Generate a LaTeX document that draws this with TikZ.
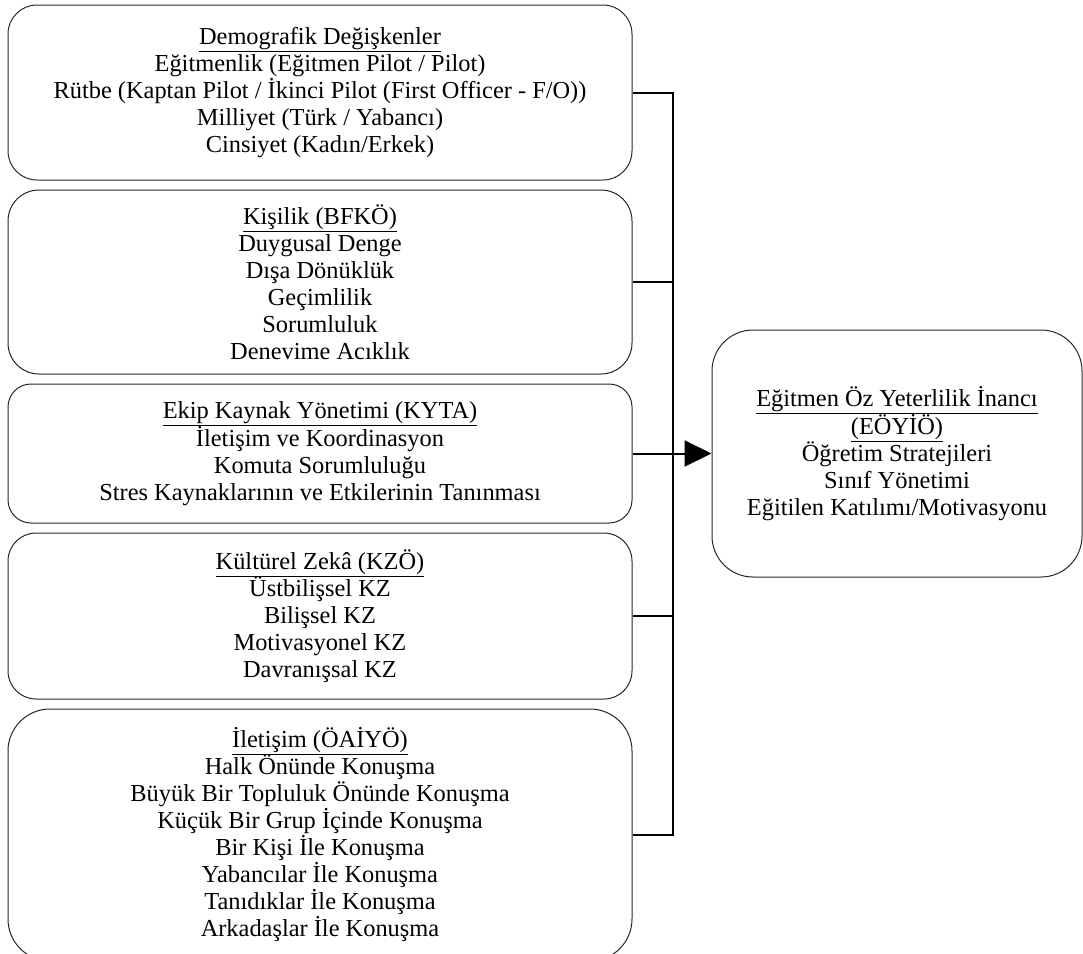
\documentclass[tikz,border=0pt]{standalone}
\usepackage{fontspec}
\setmainfont{Liberation Serif}
\usetikzlibrary{positioning,arrows.meta}
\tikzstyle{every node}=[font=\fontsize{24.4}{27}\selectfont]
\tikzstyle{kutu}=[draw=black!85,line width=1pt,align=center,inner sep=0pt,minimum width=624pt]
\tikzstyle{hat}=[line width=2pt]

\begin{document}
\begin{tikzpicture}[x=1pt,y=1pt,node distance=9pt]
\useasboundingbox (0,0) rectangle (1083,-953);
% sol sütun
\node[kutu,rounded corners=29pt,minimum height=175pt] (demografik) at (320,-92.5)
	{\underline{Demografik Değişkenler}\\
	Eğitmenlik (Eğitmen Pilot / Pilot)\\
	Rütbe (Kaptan Pilot / İkinci Pilot (First Officer - F/O))\\
	Milliyet (Türk / Yabancı)\\
	Cinsiyet (Kadın/Erkek)};
\node[kutu,rounded corners=31pt,minimum height=184pt,below=of demografik] (kisilik)
	{\underline{Kişilik (BFKÖ)}\\
	Duygusal Denge\\
	Dışa Dönüklük\\
	Geçimlilik\\
	Sorumluluk\\
	Denevime Acıklık};
\node[kutu,rounded corners=23pt,minimum height=139pt,below=of kisilik] (ekip)
	{\underline{Ekip Kaynak Yönetimi (KYTA)}\\
	İletişim ve Koordinasyon\\
	Komuta Sorumluluğu\\
	Stres Kaynaklarının ve Etkilerinin Tanınması};
\node[kutu,rounded corners=28pt,minimum height=166pt,below=of ekip] (kultur)
	{\underline{Kültürel Zekâ (KZÖ)}\\
	Üstbilişsel KZ\\
	Bilişsel KZ\\
	Motivasyonel KZ\\
	Davranışsal KZ};
\node[kutu,rounded corners=42pt,minimum height=252pt,below=of kultur] (iletisim)
	{\underline{İletişim (ÖAİYÖ)}\\
	Halk Önünde Konuşma\\
	Büyük Bir Topluluk Önünde Konuşma\\
	Küçük Bir Grup İçinde Konuşma\\
	Bir Kişi İle Konuşma\\
	Yabancılar İle Konuşma\\
	Tanıdıklar İle Konuşma\\
	Arkadaşlar İle Konuşma};
% sağ kutu
\node[kutu,rounded corners=41pt,minimum width=370pt,minimum height=247pt,right=79pt of ekip] (egitmen)
	{\underline{Eğitmen Öz Yeterlilik İnancı}\\
	\underline{(EÖYİÖ)}\\
	Öğretim Stratejileri\\
	Sınıf Yönetimi\\
	Eğitilen Katılımı/Motivasyonu};
% bağlantılar
\draw[hat] (demografik.east) -- ++(40,0) |- (iletisim.east);
\foreach \k in {kisilik,kultur} \draw[hat] (\k.east) -- ++(40,0);
\draw[hat,-{Triangle[length=27pt,width=26pt]}] (ekip.east) -- (egitmen.west);
\end{tikzpicture}
\end{document}
